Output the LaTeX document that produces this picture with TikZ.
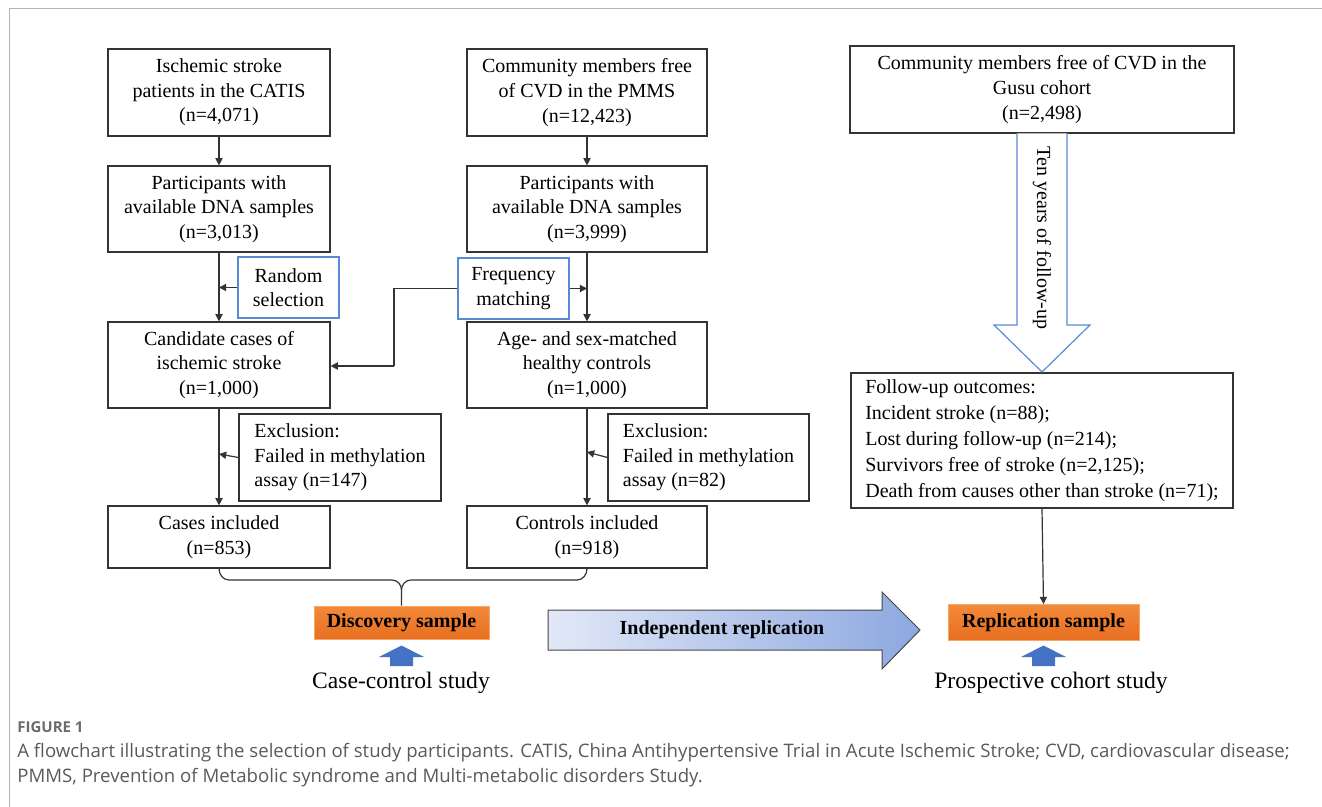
\documentclass[tikz,border=0pt]{standalone}
\usepackage{fontspec}
\setmainfont{Liberation Serif}
\newfontfamily\capfont{Open Sans}
\usetikzlibrary{arrows.meta}
\definecolor{boxline}{HTML}{333333}
\definecolor{bluebox}{HTML}{5A8AD6}
\definecolor{orangeA}{HTML}{F28A3A}
\definecolor{orangeB}{HTML}{E86E1F}
\definecolor{orangeL}{HTML}{F6A867}
\definecolor{arrowblue}{HTML}{4472C4}
\definecolor{shadeL}{HTML}{E2E8F7}
\definecolor{shadeR}{HTML}{8DA8E0}
\definecolor{framegray}{HTML}{B4B4B4}
\definecolor{capgray}{HTML}{5A5A5A}
\newcommand{\boxfont}{\fontsize{10pt}{12.3pt}\selectfont}
\tikzset{
  box/.style={draw=boxline, line width=0.6pt, fill=white, align=center, inner sep=0pt, font=\boxfont},
  lbox/.style={draw=boxline, line width=0.6pt, fill=white, align=left, inner sep=0pt, font=\boxfont},
  bbox/.style={draw=bluebox, line width=0.6pt, fill=white, align=center, inner sep=0pt, font=\boxfont},
  sample/.style={draw=orangeL, line width=0.4pt, top color=orangeA, bottom color=orangeB, inner sep=0pt, font=\boxfont\bfseries},
  conn/.style={draw=boxline, line width=0.6pt, -{Triangle[length=3.6pt,width=3.6pt]}},
  line/.style={draw=boxline, line width=0.6pt},
  studylabel/.style={font=\fontsize{11.8pt}{14pt}\selectfont, anchor=base, inner sep=0pt},
  capline/.style={font=\capfont\fontsize{9.3pt}{11pt}\selectfont, text=capgray, anchor=base west, inner sep=0pt}
}
\begin{document}
\begin{tikzpicture}[x=0.5pt,y=-0.5pt]
\useasboundingbox (0,0) rectangle (1322,807);
% frame
\draw[framegray, line width=0.7pt] (9.5,807) -- (9.5,8.5) -- (1322,8.5);

% left column
\node[box, minimum width=111pt, minimum height=43.5pt] (a1) at (219,92.5) {Ischemic stroke\\patients in the CATIS\\(n=4,071)};
\node[box, minimum width=111pt, minimum height=43pt] (a2) at (219,209) {Participants with\\available DNA samples\\(n=3,013)};
\node[box, minimum width=111pt, minimum height=43pt] (a3) at (219,365) {Candidate cases of\\ischemic stroke\\(n=1,000)};
\node[box, minimum width=111pt, minimum height=31pt] (a4) at (219,537) {Cases included\\(n=853)};
\node[bbox, minimum width=50.5pt, minimum height=30.5pt] (rand) at (288.5,287.5) {Random\\selection};
\node[lbox, minimum width=101pt, minimum height=43.5pt] (ex1) at (340,457.5) {Exclusion:\\Failed in methylation\\assay (n=147)};

% middle column
\node[box, minimum width=120pt, minimum height=43.5pt] (b1) at (587,92.5) {Community members free\\of CVD in the PMMS\\(n=12,423)};
\node[box, minimum width=120pt, minimum height=43pt] (b2) at (587,209) {Participants with\\available DNA samples\\(n=3,999)};
\node[box, minimum width=120pt, minimum height=43pt] (b3) at (587,365) {Age- and sex-matched\\healthy controls\\(n=1,000)};
\node[box, minimum width=120pt, minimum height=31pt] (b4) at (587,537) {Controls included\\(n=918)};
\node[bbox, minimum width=55.5pt, minimum height=30.5pt] (freq) at (513.5,288.5) {Frequency\\matching};
\node[lbox, minimum width=100.5pt, minimum height=43.5pt] (ex2) at (708.5,457.5) {Exclusion:\\Failed in methylation\\assay (n=82)};

% right column
\node[box, minimum width=192pt, minimum height=43.5pt] (gusu) at (1042,89.5) {Community members free of CVD in the\\Gusu cohort\\(n=2,498)};
\node[lbox, minimum width=191pt, minimum height=67.5pt, font=\fontsize{10pt}{13pt}\selectfont] (fu) at (1042,440.5) {Follow-up outcomes:\\Incident stroke (n=88);\\Lost during follow-up (n=214);\\Survivors free of stroke (n=2,125);\\Death from causes other than stroke (n=71);};

% samples
\node[sample, minimum width=87.5pt, minimum height=16.5pt] (disc) at (401.5,622.5) {Discovery sample};
\node[sample, minimum width=95.5pt, minimum height=18pt] (repl) at (1043.5,622.5) {Replication sample};

% connectors left
\draw[conn] (a1.south) -- (a2.north);
\draw[conn] (a2.south) -- (a3.north);
\draw[conn] (a3.south) -- (a4.north);
\coordinate (rj) at (219,287.5);
\draw[conn] (rand.west) -- (rj);
\coordinate (e1j) at (219,454);
\draw[conn] (ex1.west) -- (e1j);

% connectors middle
\draw[conn] (b1.south) -- (b2.north);
\draw[conn] (b2.south) -- (b3.north);
\draw[conn] (b3.south) -- (b4.north);
\coordinate (fj) at (587,288.5);
\draw[conn] (freq.east) -- (fj);
\coordinate (fk) at (394,288.5);
\coordinate (fl) at (394,366);
\draw[line] (freq.west) -- (fk) -- (fl);
\draw[conn] (fl) -- (a3.east |- fl);
\coordinate (e2j) at (587,452);
\draw[conn] (ex2.west) -- (e2j);

% brace
\draw[line] (a4.south) to[out=-90,in=180] (229,580) -- (392,580) to[out=0,in=90] (401.5,590) -- (disc.north);
\draw[line] (b4.south) to[out=-90,in=0] (577,580) -- (411,580) to[out=180,in=90] (401.5,590);

% right connectors
\draw[conn] (fu.south) -- (repl.north);
\draw[draw=bluebox, line width=0.6pt, fill=white] (1017,133.5) -- (1017,325) -- (994,325) -- (1042,372) -- (1090,325) -- (1067,325) -- (1067,133.5);
\node[font=\boxfont, rotate=-90, inner sep=0pt] (tenyr) at (1042,238) {Ten years of follow-up};

% big arrow
\path[draw=boxline!90, line width=0.5pt, left color=shadeL, right color=shadeR] (548,610) -- (882,610) -- (882,592) -- (920,630) -- (882,669) -- (882,650) -- (548,650) -- cycle;
\node[font=\boxfont\bfseries, inner sep=0pt] (indep) at (722,630) {Independent replication};

% blue up arrows
\fill[arrowblue] (390,666) -- (390,657) -- (379,657) -- (401.5,645.5) -- (424,657) -- (413,657) -- (413,666) -- cycle;
\fill[arrowblue] (1032,666) -- (1032,657) -- (1021,657) -- (1043.5,645.5) -- (1066,657) -- (1055,657) -- (1055,666) -- cycle;
\node[studylabel] (cc) at (401,688) {Case-control study};
\node[studylabel] (pc) at (1051,688) {Prospective cohort study};

% caption
\node[capline, font=\capfont\bfseries\fontsize{7.5pt}{9pt}\selectfont, text=capgray!90] (figlab) at (17,732) {FIGURE 1};
\node[capline] (cap1) at (17,757) {A flowchart illustrating the selection of study participants. CATIS, China Antihypertensive Trial in Acute Ischemic Stroke; CVD, cardiovascular disease;};
\node[capline] (cap2) at (17,782) {PMMS, Prevention of Metabolic syndrome and Multi-metabolic disorders Study.};
\end{tikzpicture}
\end{document}
